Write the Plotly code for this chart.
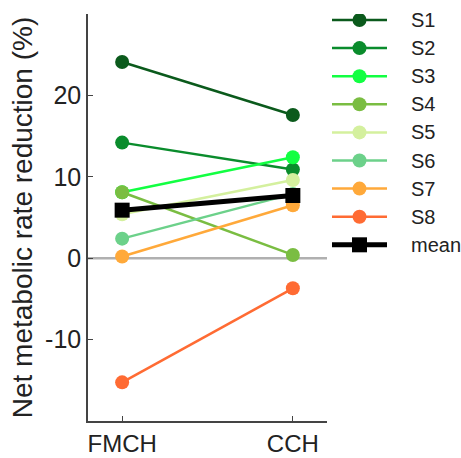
import plotly.graph_objects as go

conditions = ["FMCH", "CCH"]
subjects = ["S1", "S2", "S3", "S4", "S5", "S6", "S7", "S8"]
fmch = [24.1, 14.2, 8.1, 8.1, 5.4, 2.4, 0.2, -15.25]
cch = [17.6, 10.9, 12.4, 0.4, 9.6, 7.9, 6.5, -3.7]
mean_vals = [5.9, 7.7]
colors = ["#0b5a1c", "#0a8c2c", "#12ff42", "#7abd42", "#d4f09e", "#6cd18a", "#ffa93a", "#ff6b33"]
y_ticks = [-10, 0, 10, 20]
y_ticktext = ["-10", "0", "10", "20"]

fig = go.Figure()
xpos = [0, 1]

# zero reference line
fig.add_trace(go.Scatter(x=[-0.2, 1.2], y=[0, 0], mode="lines",
                         line=dict(color="#b0b0b0", width=2.5),
                         hoverinfo="skip", showlegend=False))

for s, a, b, c in zip(subjects, fmch, cch, colors):
    fig.add_trace(go.Scatter(x=xpos, y=[a, b], mode="lines+markers", name=s,
                             line=dict(color=c, width=2.5),
                             marker=dict(color=c, size=14, symbol="circle", opacity=1),
                             showlegend=False))

fig.add_trace(go.Scatter(x=xpos, y=mean_vals, mode="lines+markers", name="mean",
                         line=dict(color="black", width=5),
                         marker=dict(color="black", size=15, symbol="square", opacity=1),
                         showlegend=False))

# custom legend on a second axis
labels = subjects + ["mean"]
leg_colors = colors + ["black"]
for i, (lab, c) in enumerate(zip(labels, leg_colors)):
    is_mean = lab == "mean"
    fig.add_trace(go.Scatter(x=[0, 0.5, 1], y=[i, i, i], mode="lines+markers",
                             xaxis="x2", yaxis="y2",
                             line=dict(color=c, width=5 if is_mean else 2.5),
                             marker=dict(color=c, size=[0, 15 if is_mean else 14, 0],
                                         symbol="square" if is_mean else "circle",
                                         opacity=1, line=dict(width=0)),
                             hoverinfo="skip", showlegend=False))
    fig.add_annotation(x=1.4, y=i, xref="x2", yref="y2", text=lab, showarrow=False,
                       xanchor="left", yanchor="middle",
                       font=dict(size=20, color="#222222", family="Liberation Sans, Arial"))

fig.update_layout(
    width=461, height=458,
    margin=dict(l=88, r=0, t=14, b=37),
    plot_bgcolor="white", paper_bgcolor="white",
    font=dict(family="Liberation Sans, Arial", color="#333333"),
    xaxis=dict(domain=[0, 239 / 373], range=[-0.2, 1.2], tickvals=xpos, ticktext=conditions,
               showgrid=False, zeroline=False, showline=True, linecolor="#444444", linewidth=1.5,
               ticks="inside", ticklen=5, tickcolor="#444444",
               tickfont=dict(size=24, color="#222222")),
    yaxis=dict(range=[-20, 30], tickvals=y_ticks, ticktext=y_ticktext, showgrid=False,
               zeroline=False, showline=True, linecolor="#444444", linewidth=1.5,
               ticks="inside", ticklen=5, tickcolor="#444444",
               tickfont=dict(size=25, color="#222222"),
               title=dict(text="Net metabolic rate reduction (%)", standoff=4,
                          font=dict(size=28, color="#222222"))),
    xaxis2=dict(domain=[(332 - 88) / 373, 1], range=[0, 129 / 55], visible=False,
                anchor="y2"),
    yaxis2=dict(domain=[0, 1], range=[14.27, -0.2135], visible=False, anchor="x2"),
)

fig.write_html("out.html")
